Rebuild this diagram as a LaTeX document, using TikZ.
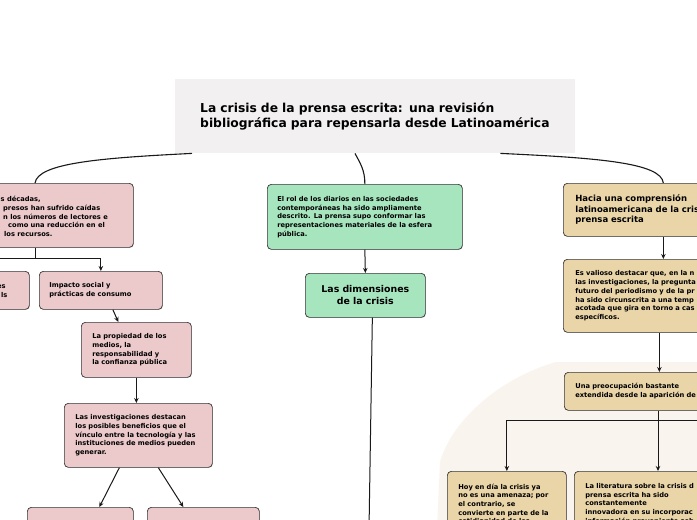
\documentclass[tikz,border=0pt]{standalone}
\usepackage{fontspec}
\setmainfont{DejaVu Sans}
\usetikzlibrary{arrows.meta,shadows}
\definecolor{pinkf}{RGB}{236,201,202}
\definecolor{greenf}{RGB}{166,229,190}
\definecolor{tanf}{RGB}{233,213,168}
\definecolor{titlef}{RGB}{242,240,241}
\definecolor{beigef}{RGB}{249,245,238}
\definecolor{edgec}{RGB}{55,55,55}
\newcommand\bxf{\bfseries\fontsize{6.7}{8.7}\selectfont}
\begin{document}
\begin{tikzpicture}[x=1pt,y=-1pt,
  box/.style={draw=edgec, line width=0.7pt, rounded corners=4pt, anchor=north west,
    align=left, font=\bxf, inner ysep=0pt,
    drop shadow={shadow xshift=0.6pt, shadow yshift=-0.6pt, opacity=0.35}},
  conn/.style={draw=black!90, line width=1pt},
  arr/.style={conn, -{Stealth[length=5pt,width=4.5pt]}},
  tcurve/.style={draw=black!90, line width=1.1pt}]
\useasboundingbox (0,0) rectangle (697,520);
\clip (0,0) rectangle (697,520);
\fill[white] (0,0) rectangle (697,520);
% background region
\fill[beigef] (697,362) -- (556,362) .. controls (500,378) and (452,420) .. (440,462) -- (437,530) -- (710,530) -- cycle;

% title
\node[anchor=north west, fill=titlef, text width=350pt, inner xsep=25pt, inner ysep=0pt,
  minimum height=74pt, align=left, font=\bfseries\fontsize{12.3}{14.5}\selectfont] (title) at (175,79)
  {La crisis de la prensa escrita: una revisión\\bibliográfica para repensarla desde Latinoamérica};

% left column
\node[box, fill=pinkf, text width=213pt, inner xsep=10pt, minimum height=64pt] (ltop) at (-100,183) {};
\node[anchor=west, align=left, font=\bxf, inner sep=0pt] (ltopt) at (0,216.5)
  {\hspace*{0.5pt}s décadas,\\\hspace*{3pt}presos han sufrido caídas\\\hspace*{3pt}n los números de lectores e\\\hspace*{8pt}como una reducción en el\\\hspace*{4pt}los recursos.};
\node[box, fill=pinkf, text width=109pt, inner xsep=10pt, minimum height=38pt] (lmid) at (-100,271) {};
\node[anchor=west, align=left, font=\bxf, inner sep=0pt] (lmidt) at (-3,291.5) {es\\\hspace*{4pt}ls};
\node[box, fill=pinkf, text width=103pt, inner xsep=10pt, minimum height=38pt] (imp) at (39,271)
  {Impacto social y\\prácticas de consumo};
\node[box, fill=pinkf, text width=88pt, inner xsep=11pt, minimum height=55pt] (prop) at (81,322)
  {La propiedad de los\\medios, la\\responsabilidad y\\la confianza pública};
\node[box, fill=pinkf, text width=126pt, inner xsep=11pt, minimum height=64pt] (inv) at (64,403)
  {Las investigaciones destacan\\los posibles beneficios que el\\vínculo entre la tecnología y las\\instituciones de medios pueden\\generar.};
\node[box, fill=pinkf, text width=84pt, inner xsep=11pt, minimum height=40pt] (b1) at (27,507) {};
\node[box, fill=pinkf, text width=90pt, inner xsep=11pt, minimum height=40pt] (b2) at (147,507) {};

% middle column
\node[box, fill=greenf, text width=175pt, inner xsep=10pt, minimum height=65pt] (rol) at (267,184)
  {El rol de los diarios en las sociedades\\contemporáneas ha sido ampliamente\\descrito. La prensa supo conformar las\\representaciones materiales de la esfera\\pública.};
\node[box, fill=greenf, text width=100pt, inner xsep=10pt, minimum height=44pt, align=center,
  font=\bfseries\fontsize{9.4}{12}\selectfont] (dim) at (305,273) {Las dimensiones\\de la crisis};
\coordinate (dimend) at (369,530);

% right column
\node[box, fill=tanf, text width=176pt, inner xsep=12pt, minimum height=53pt,
  font=\bfseries\fontsize{8.5}{10.5}\selectfont] (hacia) at (563,183)
  {Hacia una comprensión\\latinoamericana de la cris\\prensa escrita};
\node[box, fill=tanf, text width=176pt, inner xsep=12pt, minimum height=73pt] (val) at (563,259)
  {Es valioso destacar que, en la n\\las investigaciones, la pregunta\\futuro del periodismo y de la pr\\ha sido circunscrita a una temp\\acotada que gira en torno a cas\\específicos.};
\node[box, fill=tanf, text width=178pt, inner xsep=11pt, minimum height=38pt] (preoc) at (564,372)
  {Una preocupación bastante\\extendida desde la aparición de};
\node[box, fill=tanf, text width=97pt, inner xsep=11pt, minimum height=65pt] (hoy) at (447,471)
  {Hoy en día la crisis ya\\no es una amenaza; por\\el contrario, se\\convierte en parte de la\\cotidianidad de los};
\node[box, fill=tanf, text width=178pt, inner xsep=11pt, minimum height=65pt] (lit) at (574,471)
  {La literatura sobre la crisis d\\prensa escrita ha sido\\constantemente\\innovadora en su incorporac\\información proveniente sob};

% curves from the title
\coordinate (j1) at (35,258);
\draw[tcurve] ([xshift=17pt]title.south west) .. controls (100,158) and (38,163) .. (ltop.north -| j1);
\draw[tcurve] ([xshift=180pt]title.south west) .. controls (360,163) and (365,170) .. (rol.north);
\draw[tcurve] ([xshift=-75pt]title.south east) .. controls (600,158) and (661,163) .. (hacia.north);

% left connectors
\draw[conn] (ltop.south -| j1) -- (j1);
\draw[arr] (j1) -| (lmid.north);
\draw[arr] (j1) -| (imp.north);
\draw[arr] ([xshift=12pt]imp.south) -- ([xshift=-18pt]prop.north);
\draw[arr] (prop.south) -- (prop.south |- inv.north);
\draw[arr] ([xshift=-19pt]inv.south) -- ([xshift=19pt]b1.north);
\draw[arr] ([xshift=20pt]inv.south) -- ([xshift=-20pt]b2.north);

% middle connectors
\draw[arr] (rol.south) -- (dim.north);
\draw[conn] ([xshift=7pt]dim.south) -- (dimend);

% right connectors
\draw[arr] (hacia.south) -- (val.north);
\draw[arr] ([xshift=-4pt]val.south) -- ([xshift=-5pt]preoc.north);
\coordinate (j2) at (658,420);
\coordinate (j3) at (720,420);
\draw[conn] (preoc.south -| j2) -- (j2);
\draw[arr] (j2) -| (hoy.north);
\draw[arr] (j2) -- (j2 |- lit.north);
\draw[conn] (j2) -- (j3);
\end{tikzpicture}
\end{document}
